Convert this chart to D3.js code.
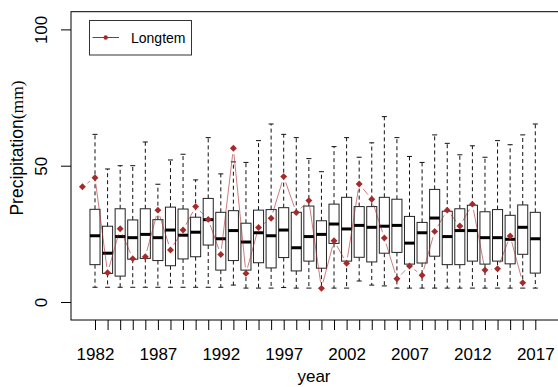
<!DOCTYPE html>
<html><head><meta charset="utf-8">
<script src="https://cdn.jsdelivr.net/npm/d3@7"></script>
<style>body{margin:0;background:#fff} svg{display:block}</style>
</head><body>
<svg id="chart" width="558" height="387"></svg>
<script>
// Box years
const years = d3.range(1982, 2018);
const upperWhisker = [61.5,48.8,50.0,50.0,58.7,43.2,52.1,54.2,44.8,60.3,47.0,51.4,51.2,59.2,65.3,61.5,60.3,52.6,47.8,57.0,60.3,53.1,58.4,68.0,60.3,53.4,51.2,61.3,58.2,54.0,57.3,53.1,59.2,57.7,61.3,65.3];
const q3 = [34.0,27.8,34.2,30.1,34.2,30.2,34.8,34.1,31.1,38.0,32.9,33.5,28.9,33.7,33.9,34.6,32.9,35.2,29.8,35.9,38.4,35.0,35.0,38.4,37.7,31.4,29.2,41.3,33.3,34.2,35.5,33.1,33.9,31.8,35.6,32.9];
const median = [24.3,17.9,24.0,23.6,24.8,23.6,26.4,24.5,25.6,30.2,23.2,26.2,22.0,25.4,24.3,26.4,19.9,24.0,24.8,28.6,26.8,28.1,27.4,27.8,28.1,21.6,25.4,30.8,24.0,26.2,26.2,23.6,23.6,23.0,27.4,23.2];
const q1 = [13.7,10.5,9.5,15.7,16.0,15.2,13.3,15.8,16.6,20.9,11.7,15.2,11.7,14.4,12.5,16.3,11.4,15.0,12.4,21.5,15.0,16.4,14.7,17.9,18.2,13.9,14.3,16.8,13.7,13.7,15.0,13.9,15.0,14.0,17.5,10.6];
const lowerWhisker = [5.4,5.4,5.4,5.4,5.4,5.4,5.4,5.4,5.4,5.4,5.4,6.2,5.1,5.1,5.1,5.3,5.1,5.1,5.1,5.1,5.1,7.7,6.2,5.9,5.1,5.1,5.1,5.1,5.1,5.1,5.1,5.1,5.1,5.1,5.1,5.1];
// Long-term series (drawn one position left of the boxes, as in the original)
const longtermYears = d3.range(1981, 2017);
const longtermValues = [42.3,45.6,10.7,26.9,15.9,16.6,33.7,19.1,26.4,35.0,30.3,17.4,56.4,10.5,27.3,30.7,46.0,32.8,37.2,5.0,22.5,14.2,43.3,37.7,23.5,8.5,13.2,9.8,25.9,33.7,27.9,35.9,11.7,12.2,24.2,7.1];
const yTicks = [0, 50, 100];
const xLabelYears = [1982, 1987, 1992, 1997, 2002, 2007, 2012, 2017];
const legendLabel = "Longtem";
const seriesColor = "#a52a2a";

const svg = d3.select("#chart");
const plot = {left: 71, top: 11.7, right: 562, bottom: 320};

const x = d3.scaleLinear().domain([1982, 2017]).range([95, 535.3]);
const y = d3.scaleLinear().domain([0, 100]).range([302, 29.4]);
const step = x(1983) - x(1982);
const bw = step * 0.8;
const capW = bw * 0.5;

// Boxes
const boxes = svg.append("g").selectAll("g").data(years).join("g")
  .attr("transform", d => `translate(${x(d)},0)`);
boxes.each(function(d, i) {
  const g = d3.select(this);
  g.append("line").attr("x1", 0).attr("x2", 0).attr("y1", y(q3[i])).attr("y2", y(upperWhisker[i]))
    .attr("stroke", "#111").attr("stroke-dasharray", "4,3");
  g.append("line").attr("x1", 0).attr("x2", 0).attr("y1", y(q1[i])).attr("y2", y(lowerWhisker[i]))
    .attr("stroke", "#111").attr("stroke-dasharray", "4,3");
  g.append("line").attr("x1", -capW/2).attr("x2", capW/2).attr("y1", y(upperWhisker[i])).attr("y2", y(upperWhisker[i]))
    .attr("stroke", "#111");
  g.append("line").attr("x1", -capW/2).attr("x2", capW/2).attr("y1", y(lowerWhisker[i])).attr("y2", y(lowerWhisker[i]))
    .attr("stroke", "#111");
  g.append("rect").attr("x", -bw/2).attr("width", bw).attr("y", y(q3[i])).attr("height", y(q1[i]) - y(q3[i]))
    .attr("fill", "#fff").attr("stroke", "#222");
  g.append("line").attr("x1", -bw/2).attr("x2", bw/2).attr("y1", y(median[i])).attr("y2", y(median[i]))
    .attr("stroke", "#000").attr("stroke-width", 3);
});

// Long-term line (type "b": segments with gaps around points)
const pts = longtermYears.map((yr, i) => [x(yr), y(longtermValues[i])]);
const gap = 6;
const lineG = svg.append("g");
for (let i = 0; i < pts.length - 1; i++) {
  const [x0, y0] = pts[i], [x1, y1] = pts[i + 1];
  const L = Math.hypot(x1 - x0, y1 - y0);
  if (L <= 2 * gap) continue;
  const ux = (x1 - x0) / L, uy = (y1 - y0) / L;
  lineG.append("line")
    .attr("x1", x0 + ux * gap).attr("y1", y0 + uy * gap)
    .attr("x2", x1 - ux * gap).attr("y2", y1 - uy * gap)
    .attr("stroke", seriesColor).attr("stroke-opacity", 0.6).attr("stroke-width", 1);
}
svg.append("g").selectAll("path").data(pts).join("path")
  .attr("d", d3.symbol(d3.symbolSquare, 24)())
  .attr("transform", d => `translate(${d[0]},${d[1]}) rotate(45)`)
  .attr("fill", seriesColor);

// Frame
svg.append("rect").attr("x", plot.left).attr("y", plot.top)
  .attr("width", plot.right - plot.left).attr("height", plot.bottom - plot.top)
  .attr("fill", "none").attr("stroke", "#000");

// Y axis
const yAxis = svg.append("g").attr("transform", `translate(${plot.left},0)`)
  .call(d3.axisLeft(y).tickValues(yTicks).tickSize(10).tickFormat(d3.format("d")));
yAxis.select(".domain").remove();
yAxis.selectAll("line").attr("stroke", "#000");
yAxis.selectAll("text").attr("x", null).attr("dy", null)
  .attr("transform", "translate(-24,0) rotate(-90)")
  .attr("text-anchor", "middle")
  .attr("font-family", "Liberation Sans, Arial, sans-serif").attr("font-size", 17).attr("fill", "#000");

// X axis
const xAxis = svg.append("g").attr("transform", `translate(0,${plot.bottom})`)
  .call(d3.axisBottom(x).tickValues(years).tickSize(10).tickPadding(18)
    .tickFormat(d => xLabelYears.includes(d) ? String(d) : ""));
xAxis.select(".domain").remove();
xAxis.selectAll("line").attr("stroke", "#000");
xAxis.selectAll("text").attr("font-family", "Liberation Sans, Arial, sans-serif").attr("font-size", 17).attr("fill", "#000");

// Axis titles
const yt = svg.append("text").attr("transform", "translate(23,148) rotate(-90)")
  .attr("text-anchor", "middle").attr("font-size", 17.5).attr("fill", "#000");
yt.append("tspan").attr("font-family", "Liberation Sans, Arial, sans-serif").text("Precipitation");
yt.append("tspan").attr("font-family", "Liberation Serif, Times New Roman, serif").text("(mm)");
svg.append("text").attr("x", 314).attr("y", 382).attr("text-anchor", "middle")
  .attr("font-family", "Liberation Sans, Arial, sans-serif").attr("font-size", 17).attr("fill", "#000").text("year");

// Legend
const lg = svg.append("g");
lg.append("rect").attr("x", 89.5).attr("y", 20.5).attr("width", 102).attr("height", 34.5)
  .attr("fill", "#fff").attr("stroke", "#333");
lg.append("line").attr("x1", 92.5).attr("x2", 119).attr("y1", 37.5).attr("y2", 37.5)
  .attr("stroke", seriesColor).attr("stroke-width", 1);
lg.append("circle").attr("cx", 105.7).attr("cy", 37.5).attr("r", 2.2).attr("fill", seriesColor);
lg.append("text").attr("x", 131).attr("y", 42.5).attr("font-family", "Liberation Sans, Arial, sans-serif")
  .attr("font-size", 14).attr("fill", "#000").text(legendLabel);
</script>
</body></html>
